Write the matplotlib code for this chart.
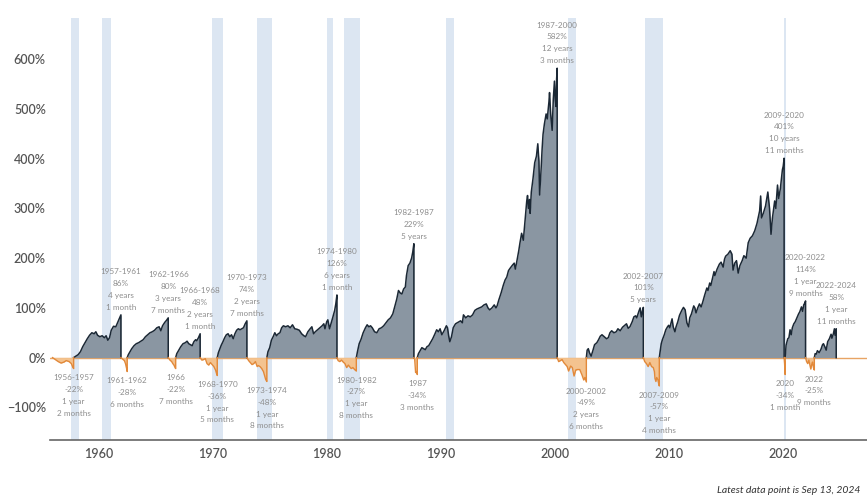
import matplotlib
matplotlib.use("Agg")
import matplotlib.pyplot as plt

plt.rcParams['font.family'] = ['Lato', 'DejaVu Sans']

# bear markets: (year, drawdown %) from each peak
bear_1956 = [(1955.95, 0), (1956.2, -4), (1956.45, -8), (1956.7, -11), (1956.95, -9), (1957.15, -6),
             (1957.4, -8), (1957.6, -12), (1957.72, -19), (1957.8, -22)]
bear_1961 = [(1961.95, 0), (1962.1, -3), (1962.25, -6), (1962.35, -12), (1962.45, -22), (1962.5, -28)]
bear_1966 = [(1966.1, 0), (1966.25, -5), (1966.4, -8), (1966.5, -12), (1966.6, -15), (1966.7, -20),
             (1966.75, -22)]
bear_1968 = [(1968.9, 0), (1969.05, -5), (1969.2, -4), (1969.35, -2), (1969.5, -12), (1969.65, -15),
             (1969.8, -10), (1969.95, -14), (1970.1, -18), (1970.25, -25), (1970.35, -33), (1970.4, -36)]
bear_1973 = [(1973.0, 0), (1973.15, -6), (1973.3, -10), (1973.45, -14), (1973.6, -12), (1973.75, -8),
             (1973.9, -18), (1974.0, -16), (1974.15, -18), (1974.3, -22), (1974.45, -28), (1974.55, -36),
             (1974.65, -44), (1974.75, -48)]
bear_1980 = [(1980.9, 0), (1981.0, -6), (1981.15, -8), (1981.3, -5), (1981.45, -9), (1981.6, -12),
             (1981.75, -20), (1981.9, -15), (1982.0, -18), (1982.15, -22), (1982.3, -20), (1982.45, -24),
             (1982.6, -27)]
bear_1987 = [(1987.65, 0), (1987.72, -3), (1987.8, -30), (1987.88, -28), (1987.95, -34)]
bear_2000 = [(2000.22, 0), (2000.35, -8), (2000.5, -6), (2000.65, -4), (2000.8, -10), (2000.95, -14),
             (2001.1, -18), (2001.22, -27), (2001.4, -17), (2001.55, -20), (2001.7, -37), (2001.85, -25),
             (2002.0, -24), (2002.2, -24), (2002.4, -35), (2002.55, -45), (2002.65, -40), (2002.78, -49)]
bear_2007 = [(2007.78, 0), (2007.9, -8), (2008.05, -12), (2008.2, -18), (2008.35, -10), (2008.5, -18),
             (2008.65, -20), (2008.75, -28), (2008.8, -42), (2008.88, -48), (2008.95, -40), (2009.05, -44),
             (2009.12, -52), (2009.18, -57)]
bear_2020 = [(2020.13, 0), (2020.17, -12), (2020.2, -26), (2020.22, -34)]
bear_2022 = [(2022.01, 0), (2022.1, -8), (2022.2, -12), (2022.3, -5), (2022.4, -16), (2022.47, -23),
             (2022.55, -14), (2022.62, -9), (2022.7, -20), (2022.78, -25)]

# bull markets: (year, cumulative return %) from each trough
bull_1957 = [(1957.8, 0), (1958.0, 3), (1958.2, 6), (1958.4, 12), (1958.6, 22), (1958.8, 30), (1959.0, 38),
             (1959.2, 45), (1959.4, 50), (1959.6, 48), (1959.75, 52), (1959.9, 45), (1960.1, 42),
             (1960.3, 44), (1960.5, 40), (1960.65, 44), (1960.8, 35), (1960.95, 40), (1961.1, 55),
             (1961.3, 63), (1961.5, 62), (1961.65, 70), (1961.8, 78), (1961.95, 86)]
bull_1962 = [(1962.5, 0), (1962.6, 6), (1962.75, 12), (1962.9, 18), (1963.1, 24), (1963.3, 28), (1963.5, 30),
             (1963.7, 33), (1963.9, 36), (1964.1, 42), (1964.3, 46), (1964.5, 50), (1964.7, 52),
             (1964.9, 55), (1965.1, 60), (1965.3, 62), (1965.45, 54), (1965.6, 64), (1965.8, 71),
             (1965.95, 75), (1966.1, 80)]
bull_1966 = [(1966.75, 0), (1966.85, 8), (1967.0, 14), (1967.2, 22), (1967.4, 28), (1967.6, 30),
             (1967.75, 33), (1967.9, 28), (1968.05, 26), (1968.2, 24), (1968.35, 32), (1968.5, 36),
             (1968.6, 34), (1968.75, 40), (1968.9, 48)]
bull_1970 = [(1970.4, 0), (1970.5, 10), (1970.6, 16), (1970.75, 25), (1970.9, 32), (1971.05, 40),
             (1971.2, 46), (1971.35, 48), (1971.5, 42), (1971.65, 46), (1971.8, 38), (1971.95, 48),
             (1972.1, 55), (1972.25, 58), (1972.4, 56), (1972.55, 58), (1972.7, 60), (1972.85, 68),
             (1973.0, 74)]
bull_1974 = [(1974.75, 0), (1974.85, 12), (1975.0, 20), (1975.15, 35), (1975.3, 42), (1975.45, 50),
             (1975.6, 44), (1975.75, 48), (1975.9, 50), (1976.05, 60), (1976.2, 64), (1976.4, 62),
             (1976.6, 64), (1976.8, 60), (1977.0, 66), (1977.2, 58), (1977.4, 57), (1977.6, 55),
             (1977.8, 48), (1978.0, 44), (1978.15, 42), (1978.35, 52), (1978.55, 58), (1978.7, 62),
             (1978.85, 48), (1979.0, 52), (1979.2, 56), (1979.4, 60), (1979.6, 64), (1979.75, 68),
             (1979.85, 58), (1980.0, 72), (1980.1, 76), (1980.25, 58), (1980.4, 70), (1980.55, 82),
             (1980.7, 95), (1980.8, 108), (1980.9, 126)]
bull_1982 = [(1982.6, 0), (1982.7, 12), (1982.85, 28), (1983.0, 36), (1983.2, 50), (1983.4, 60),
             (1983.55, 66), (1983.7, 62), (1983.85, 64), (1984.0, 60), (1984.2, 52), (1984.4, 50),
             (1984.6, 58), (1984.8, 60), (1985.0, 64), (1985.2, 70), (1985.4, 76), (1985.6, 80),
             (1985.8, 88), (1986.0, 105), (1986.15, 118), (1986.3, 135), (1986.45, 130), (1986.6, 128),
             (1986.75, 138), (1986.9, 142), (1987.0, 165), (1987.15, 185), (1987.3, 190), (1987.45, 200),
             (1987.55, 212), (1987.65, 229)]
bull_1987 = [(1987.95, 0), (1988.05, 8), (1988.2, 14), (1988.35, 20), (1988.5, 18), (1988.65, 16),
             (1988.8, 22), (1988.95, 24), (1989.1, 30), (1989.3, 38), (1989.5, 48), (1989.65, 56),
             (1989.8, 52), (1989.95, 58), (1990.1, 46), (1990.3, 54), (1990.5, 64), (1990.6, 60),
             (1990.7, 44), (1990.8, 32), (1990.95, 42), (1991.1, 60), (1991.3, 68), (1991.45, 70),
             (1991.6, 72), (1991.75, 74), (1991.9, 70), (1992.0, 86), (1992.2, 80), (1992.4, 84),
             (1992.6, 82), (1992.8, 86), (1993.0, 95), (1993.2, 98), (1993.4, 100), (1993.6, 102),
             (1993.8, 106), (1994.0, 108), (1994.15, 100), (1994.3, 96), (1994.5, 100), (1994.7, 106),
             (1994.85, 100), (1994.95, 104), (1995.1, 116), (1995.3, 130), (1995.5, 146), (1995.65, 156),
             (1995.8, 162), (1995.95, 175), (1996.1, 180), (1996.3, 186), (1996.45, 190), (1996.55, 178),
             (1996.7, 196), (1996.85, 215), (1996.95, 230), (1997.1, 250), (1997.25, 236), (1997.4, 275),
             (1997.55, 315), (1997.62, 326), (1997.7, 300), (1997.8, 318), (1997.85, 290), (1997.95, 333),
             (1998.1, 360), (1998.25, 392), (1998.4, 405), (1998.52, 430), (1998.62, 395), (1998.68, 327),
             (1998.8, 375), (1998.9, 420), (1998.98, 449), (1999.1, 470), (1999.25, 490), (1999.35, 480),
             (1999.5, 515), (1999.55, 533), (1999.65, 490), (1999.78, 457), (1999.88, 520), (1999.98, 556),
             (2000.05, 520), (2000.12, 505), (2000.17, 560), (2000.22, 582)]
bull_2002 = [(2002.78, 0), (2002.85, 15), (2002.95, 18), (2003.05, 10), (2003.2, 3), (2003.35, 14),
             (2003.5, 26), (2003.7, 30), (2003.85, 36), (2004.0, 43), (2004.15, 46), (2004.35, 42),
             (2004.55, 38), (2004.7, 40), (2004.85, 50), (2005.0, 54), (2005.2, 50), (2005.4, 52),
             (2005.55, 58), (2005.75, 54), (2005.95, 61), (2006.1, 64), (2006.3, 68), (2006.45, 59),
             (2006.6, 62), (2006.8, 72), (2006.95, 82), (2007.1, 84), (2007.2, 80), (2007.4, 94),
             (2007.5, 100), (2007.6, 82), (2007.7, 94), (2007.78, 101)]
bull_2009 = [(2009.18, 0), (2009.25, 12), (2009.35, 28), (2009.45, 36), (2009.6, 45), (2009.75, 56),
             (2009.9, 62), (2010.0, 65), (2010.1, 60), (2010.3, 78), (2010.4, 62), (2010.55, 52),
             (2010.65, 62), (2010.8, 72), (2010.95, 85), (2011.15, 95), (2011.3, 101), (2011.45, 96),
             (2011.6, 70), (2011.75, 62), (2011.85, 80), (2012.0, 88), (2012.2, 104), (2012.3, 100),
             (2012.4, 90), (2012.55, 100), (2012.7, 108), (2012.85, 102), (2012.98, 111), (2013.15, 125),
             (2013.35, 140), (2013.45, 135), (2013.6, 150), (2013.7, 145), (2013.85, 160), (2013.98, 173),
             (2014.05, 165), (2014.25, 178), (2014.45, 188), (2014.6, 192), (2014.78, 182), (2014.9, 198),
             (2015.0, 204), (2015.2, 208), (2015.4, 215), (2015.55, 208), (2015.65, 176), (2015.8, 190),
             (2015.95, 195), (2016.1, 170), (2016.25, 185), (2016.45, 195), (2016.6, 205), (2016.8, 200),
             (2016.98, 231), (2017.15, 240), (2017.35, 245), (2017.55, 255), (2017.75, 270), (2017.98, 295),
             (2018.07, 325), (2018.15, 281), (2018.3, 290), (2018.5, 305), (2018.7, 333), (2018.85, 300),
             (2018.98, 248), (2019.1, 280), (2019.3, 315), (2019.4, 300), (2019.55, 347), (2019.65, 320),
             (2019.8, 340), (2019.98, 378), (2020.05, 385), (2020.13, 401)]
bull_2020 = [(2020.22, 0), (2020.3, 25), (2020.45, 38), (2020.55, 40), (2020.65, 56), (2020.75, 46),
             (2020.85, 60), (2020.98, 68), (2021.1, 72), (2021.25, 80), (2021.4, 88), (2021.5, 92),
             (2021.65, 102), (2021.75, 93), (2021.85, 106), (2021.95, 110), (2022.01, 114)]
bull_2022 = [(2022.78, 0), (2022.85, 8), (2022.95, 7), (2023.05, 14), (2023.2, 10), (2023.35, 16),
             (2023.5, 26), (2023.58, 28), (2023.7, 22), (2023.82, 15), (2023.95, 32), (2024.1, 38),
             (2024.25, 47), (2024.32, 39), (2024.45, 48), (2024.54, 58), (2024.6, 45), (2024.7, 58)]

bull_markets = [bull_1957, bull_1962, bull_1966, bull_1970, bull_1974, bull_1982,
                bull_1987, bull_2002, bull_2009, bull_2020, bull_2022]
bear_markets = [bear_1956, bear_1961, bear_1966, bear_1968, bear_1973, bear_1980,
                bear_1987, bear_2000, bear_2007, bear_2020, bear_2022]

bull_periods = ["1957-1961", "1962-1966", "1966-1968", "1970-1973", "1974-1980", "1982-1987",
                "1987-2000", "2002-2007", "2009-2020", "2020-2022", "2022-2024"]
bull_returns = [86, 80, 48, 74, 126, 229, 582, 101, 401, 114, 58]
bull_lengths = ["4 years\n1 month", "3 years\n7 months", "2 years\n1 month", "2 years\n7 months",
                "6 years\n1 month", "5 years", "12 years\n3 months", "5 years",
                "10 years\n11 months", "1 year\n9 months", "1 year\n11 months"]

bear_periods = ["1956-1957", "1961-1962", "1966", "1968-1970", "1973-1974", "1980-1982",
                "1987", "2000-2002", "2007-2009", "2020", "2022"]
bear_returns = [-22, -28, -22, -36, -48, -27, -34, -49, -57, -34, -25]
bear_lengths = ["1 year\n2 months", "6 months", "7 months", "1 year\n5 months", "1 year\n8 months",
                "1 year\n8 months", "3 months", "2 years\n6 months", "1 year\n4 months",
                "1 month", "9 months"]

recessions = [(1957.6, 1958.3), (1960.3, 1961.1), (1969.9, 1970.9), (1973.85, 1975.2),
              (1980.0, 1980.55), (1981.5, 1982.9), (1990.5, 1991.2), (2001.2, 2001.9),
              (2007.9, 2009.5), (2020.1, 2020.3)]

bull_fill, bull_line = '#8a96a2', '#1b2835'
bear_fill, bear_line = '#f4c38f', '#e2893a'
label_color = '#8e8e8e'

fig = plt.figure(figsize=(8.67, 4.99), dpi=100)
ax = fig.add_axes([0.0577, 0.1182, 0.9423, 0.8458])

for start, end in recessions:
    ax.axvspan(start, end, color='#dce6f2', lw=0, zorder=0)

ax.axhline(0, color='#e8a464', lw=1.0, zorder=1)

for seg in bull_markets:
    t = [p[0] for p in seg]
    v = [p[1] for p in seg]
    ax.fill_between(t, 0, v, color=bull_fill, lw=0, zorder=2)
    ax.plot(t + [t[-1]], v + [0], color=bull_line, lw=1.1, zorder=3)

for seg in bear_markets:
    t = [p[0] for p in seg]
    v = [p[1] for p in seg]
    ax.fill_between(t, 0, v, color=bear_fill, lw=0, zorder=2)
    ax.plot(t + [t[-1]], v + [0], color=bear_line, lw=1.0, zorder=3)

# period labels above each bull peak and below each bear trough
for seg, name, ret, length in zip(bull_markets, bull_periods, bull_returns, bull_lengths):
    ax.annotate(f"{name}\n{ret}%\n{length}", (seg[-1][0], seg[-1][1]),
                xytext=(0, 3), textcoords='offset points', ha='center', va='bottom',
                fontsize=5.9, color=label_color, linespacing=1.8, zorder=4)

for seg, name, ret, length in zip(bear_markets, bear_periods, bear_returns, bear_lengths):
    ax.annotate(f"{name}\n{ret}%\n{length}", (seg[-1][0], seg[-1][1]),
                xytext=(0, -4), textcoords='offset points', ha='center', va='top',
                fontsize=5.9, color=label_color, linespacing=1.8, zorder=4)

ax.set_xlim(1955.73, 2027.4)
ax.set_ylim(-165.7, 683)
ax.set_xticks([1960, 1970, 1980, 1990, 2000, 2010, 2020])
ax.set_yticks([-100, 0, 100, 200, 300, 400, 500, 600])
ax.set_yticklabels([f"{v}%".replace('-', '\u2212') for v in [-100, 0, 100, 200, 300, 400, 500, 600]])
ax.tick_params(length=0, labelsize=9, colors='#555555')
ax.tick_params(axis='x', pad=6)
ax.tick_params(axis='y', pad=3)
for lab in ax.get_xticklabels() + ax.get_yticklabels():
    lab.set_fontweight('semibold')

for side in ['top', 'right', 'left']:
    ax.spines[side].set_visible(False)
ax.spines['bottom'].set_color('#666666')
ax.spines['bottom'].set_linewidth(1.2)
ax.set_facecolor('none')

fig.text(0.992, 0.008, "Latest data point is Sep 13, 2024", ha='right', va='bottom',
         fontsize=7.5, style='italic', color='#333333')

fig.savefig('out.png', dpi=100)
